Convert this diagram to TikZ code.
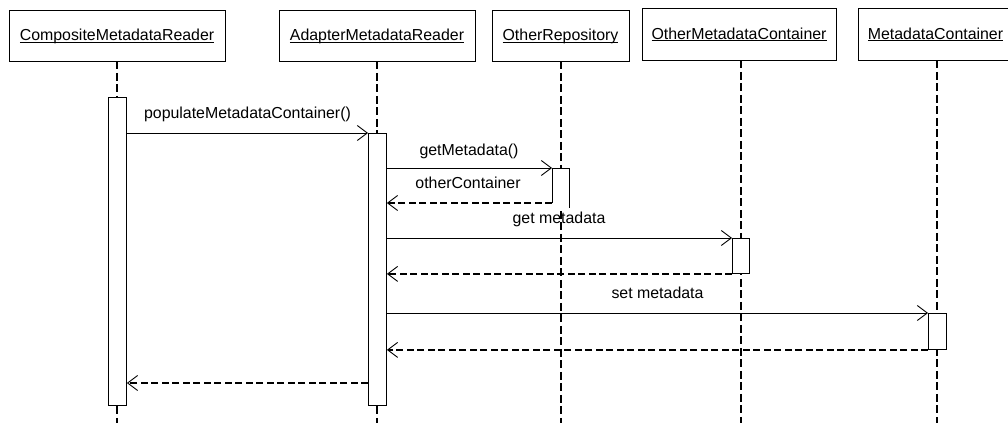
\documentclass[tikz,border=0pt]{standalone}
\usepackage{fontspec}
\setmainfont{Liberation Sans}
\usetikzlibrary{arrows.meta,backgrounds}
\newcommand\myul[1]{{\setbox0\hbox{#1}\rlap{\rule[-1.9pt]{\wd0}{0.8pt}}\box0}}
\begin{document}
\begin{tikzpicture}[x=1pt,y=-1pt,
  every node/.style={font=\fontsize{15.9}{18}\selectfont},
  objbox/.style={draw, line width=0.9pt, inner sep=0pt, text height=11pt, text depth=1pt},
  lifeline/.style={line width=2pt, dash pattern=on 8pt off 3.5pt},
  actbox/.style={draw, fill=white, line width=0.9pt, inner sep=0pt, minimum width=18pt, anchor=north west},
  msg/.style={line width=0.9pt, -{Straight Barb[length=10pt,width=15pt,line width=0.9pt]}},
  ret/.style={line width=1.8pt, dash pattern=on 7pt off 3.5pt, -{Straight Barb[length=10pt,width=15pt,line width=0.9pt]}},
  lbl/.style={anchor=base, inner sep=0pt}]
\useasboundingbox (0,0) rectangle (1008,423);
\coordinate (bot) at (0,423);

% object boxes
\node[objbox, minimum width=216pt, minimum height=51pt] (oC) at (117,35.5) {\myul{CompositeMetadataReader}};
\node[objbox, minimum width=196pt, minimum height=51pt] (oA) at (377,35.5) {\myul{AdapterMetadataReader}};
\node[objbox, minimum width=137pt, minimum height=51pt] (oR) at (560.5,35.5) {\myul{OtherRepository}};
\node[objbox, minimum width=194pt, minimum height=52pt] (oO) at (739,34) {\myul{OtherMetadataContainer}};
\node[objbox, minimum width=155pt, minimum height=52pt] (oM) at (935.5,34) {\myul{MetadataContainer}};

% activations
\node[actbox, minimum height=308pt] (actC) at (108,97) {};
\node[actbox, minimum height=272pt] (actA) at (368,133) {};
\node[actbox, draw=none, minimum width=17pt, minimum height=39pt] (actR) at (552,168) {};
\node[actbox, minimum width=17pt, minimum height=35pt] (actO) at (732,238) {};
\node[actbox, minimum height=36pt] (actM) at (928,313) {};
\coordinate (r3) at (552,203);
\draw[line width=0.9pt] (r3) -- (actR.north west) -- (actR.north east) -- (actR.south east);

% lifelines
\begin{scope}[on background layer]
\draw[lifeline] (actC.north |- oC.south) -- (actC.north |- bot);
\draw[lifeline] (actA.north |- oA.south) -- (actA.north |- bot);
\draw[lifeline] (actR.north |- oR.south) -- (actR.north |- bot);
\draw[lifeline] (actO.north |- oO.south) -- (actO.north |- bot);
\draw[lifeline] (actM.north |- oM.south) -- (actM.north |- bot);
\end{scope}

% messages
\draw[msg] (actC.east |- actA.north) -- (actA.north west);
\draw[msg] (actA.east |- actR.north) -- (actR.north west);
\draw[ret] (r3) -- (actA.east |- r3);
\draw[msg] (actA.east |- actO.north) -- (actO.north west);
\draw[ret] (actO.south west) -- (actA.east |- actO.south);
\draw[msg] (actA.east |- actM.north) -- (actM.north west);
\draw[ret] (actM.south west) -- (actA.east |- actM.south);
\coordinate (y8) at (0,383);
\draw[ret] (actA.west |- y8) -- (actC.east |- y8);

% labels
\node[lbl] (l1) at (247.5,118) {populateMetadataContainer()};
\node[lbl] (l2) at (469,155) {getMetadata()};
\node[lbl] (l3) at (468,188) {otherContainer};
\node[lbl] (l4) at (559,223) {get metadata};
\node[lbl] (l5) at (657.5,298) {set metadata};
\end{tikzpicture}
\end{document}
